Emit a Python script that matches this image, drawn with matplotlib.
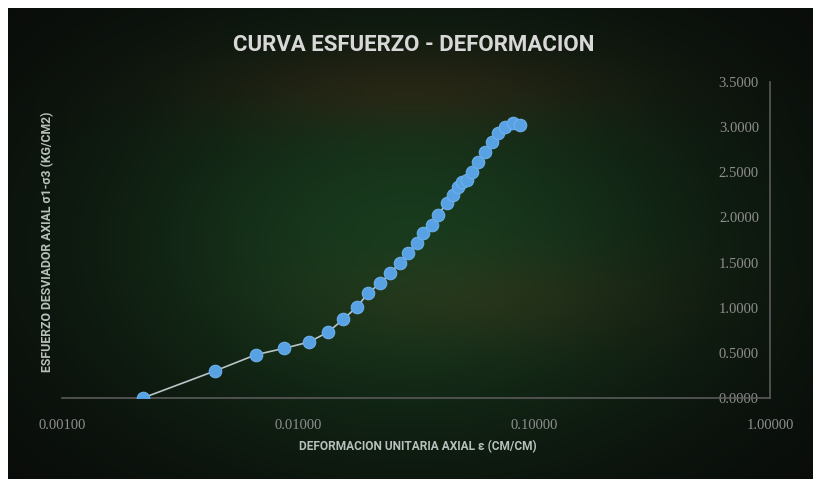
import numpy as np
import matplotlib
matplotlib.use('Agg')
import matplotlib.pyplot as plt
from matplotlib.ticker import FixedLocator, FuncFormatter, NullLocator

# data (strain cm/cm, deviator stress kg/cm2)
strain = [0.00220, 0.00445, 0.00664, 0.00873, 0.01114, 0.01341, 0.01552, 0.01778,
          0.01980, 0.02225, 0.02453, 0.02705, 0.02923, 0.03192, 0.03387, 0.03698,
          0.03918, 0.04277, 0.04537, 0.04763, 0.04954, 0.05200, 0.05461, 0.05790,
          0.06198, 0.06634, 0.07031, 0.07531, 0.08143, 0.08730]
stress = [0.00, 0.30, 0.48, 0.55, 0.62, 0.73, 0.87, 1.01,
          1.16, 1.27, 1.38, 1.50, 1.61, 1.72, 1.83, 1.92,
          2.03, 2.16, 2.25, 2.34, 2.39, 2.41, 2.50, 2.61,
          2.72, 2.83, 2.93, 3.00, 3.05, 3.02]
x_ticks = [0.001, 0.01, 0.1, 1.0]
y_ticks = [0.0, 0.5, 1.0, 1.5, 2.0, 2.5, 3.0, 3.5]

title = 'CURVA ESFUERZO - DEFORMACION'
x_label = 'DEFORMACION UNITARIA AXIAL ε (CM/CM)'
y_label = 'ESFUERZO DESVIADOR AXIAL σ1-σ3 (KG/CM2)'

W, H = 813, 479
fig = plt.figure(figsize=(W / 100, H / 100), dpi=100, facecolor='white')

# dark background with a soft green / red glow (photo of the slide)
bg = fig.add_axes([8 / W, 0, 1 - 8 / W, 1 - 8 / H])
bg.set_axis_off()
gy, gx = np.mgrid[0:1:300j, 0:1:500j]
green = np.exp(-(((gx - 0.50) / 0.40) ** 2 + ((gy - 0.50) / 0.45) ** 2))
red_top = np.exp(-(((gx - 0.50) / 0.25) ** 2 + ((gy - 0.17) / 0.09) ** 2))
red_mid = np.exp(-(((gx - 0.60) / 0.22) ** 2 + ((gy - 0.62) / 0.10) ** 2))
img = np.zeros((300, 500, 3))
img[..., 0] = 0.035 + 0.06 * green + 0.08 * red_top + 0.06 * red_mid
img[..., 1] = 0.040 + 0.19 * green + 0.00 * red_top + 0.00 * red_mid
img[..., 2] = 0.035 + 0.08 * green
bg.imshow(np.clip(img, 0, 1), aspect='auto', extent=[0, 1, 1, 0])
bg.set_xlim(0, 1)
bg.set_ylim(1, 0)

ax = fig.add_axes([62 / W, (H - 398) / H, 708 / W, 316 / H])
ax.patch.set_alpha(0)
ax.set_xscale('log')
ax.set_xlim(0.001, 1.0)
ax.set_ylim(0, 3.5)

ax.plot(strain, stress, color='#b8c4c8', lw=1.2, zorder=2)
ax.plot(strain, stress, 'o', ms=9, color='#58a2e4', mec='#6cb0ec', mew=0.8, zorder=3)

for s in ['top', 'left']:
    ax.spines[s].set_visible(False)
ax.spines['bottom'].set_color('#5a5a5a')
ax.spines['right'].set_color('#5a5a5a')
ax.spines['bottom'].set_linewidth(1.2)
ax.spines['right'].set_linewidth(1.2)

ax.xaxis.set_major_locator(FixedLocator(x_ticks))
ax.xaxis.set_minor_locator(NullLocator())
ax.xaxis.set_major_formatter(FuncFormatter(lambda v, p: f'{v:.5f}'))
ax.tick_params(axis='x', length=0, pad=15, colors='#8e8e8e', labelsize=10.5)
for lab in ax.get_xticklabels():
    lab.set_fontfamily('Liberation Serif')

ax.yaxis.tick_right()
ax.yaxis.set_major_locator(FixedLocator(y_ticks))
ax.yaxis.set_major_formatter(FuncFormatter(lambda v, p: f'{v:.4f}'))
ax.tick_params(axis='y', length=0, pad=-8, colors='#8e8e8e', labelsize=10.5)
for lab in ax.get_yticklabels():
    lab.set_fontfamily('Liberation Serif')
    lab.set_horizontalalignment('right')

fig.text(414 / W, 1 - 45 / H, title, ha='center', va='center',
         family=['Roboto', 'DejaVu Sans'], weight='bold',
         size=16, color='#d8d8d8')
fig.text(418 / W, 1 - 447 / H, x_label, ha='center', va='center',
         family=['Roboto', 'DejaVu Sans'], weight='bold',
         size=8.6, color='#b8c0bc')
fig.text(48 / W, 1 - 242 / H, y_label, ha='center', va='center', rotation=90,
         family=['Roboto', 'DejaVu Sans'], weight='bold',
         size=8.8, color='#b8c0bc')

fig.savefig('out.png', dpi=100, facecolor='white')
